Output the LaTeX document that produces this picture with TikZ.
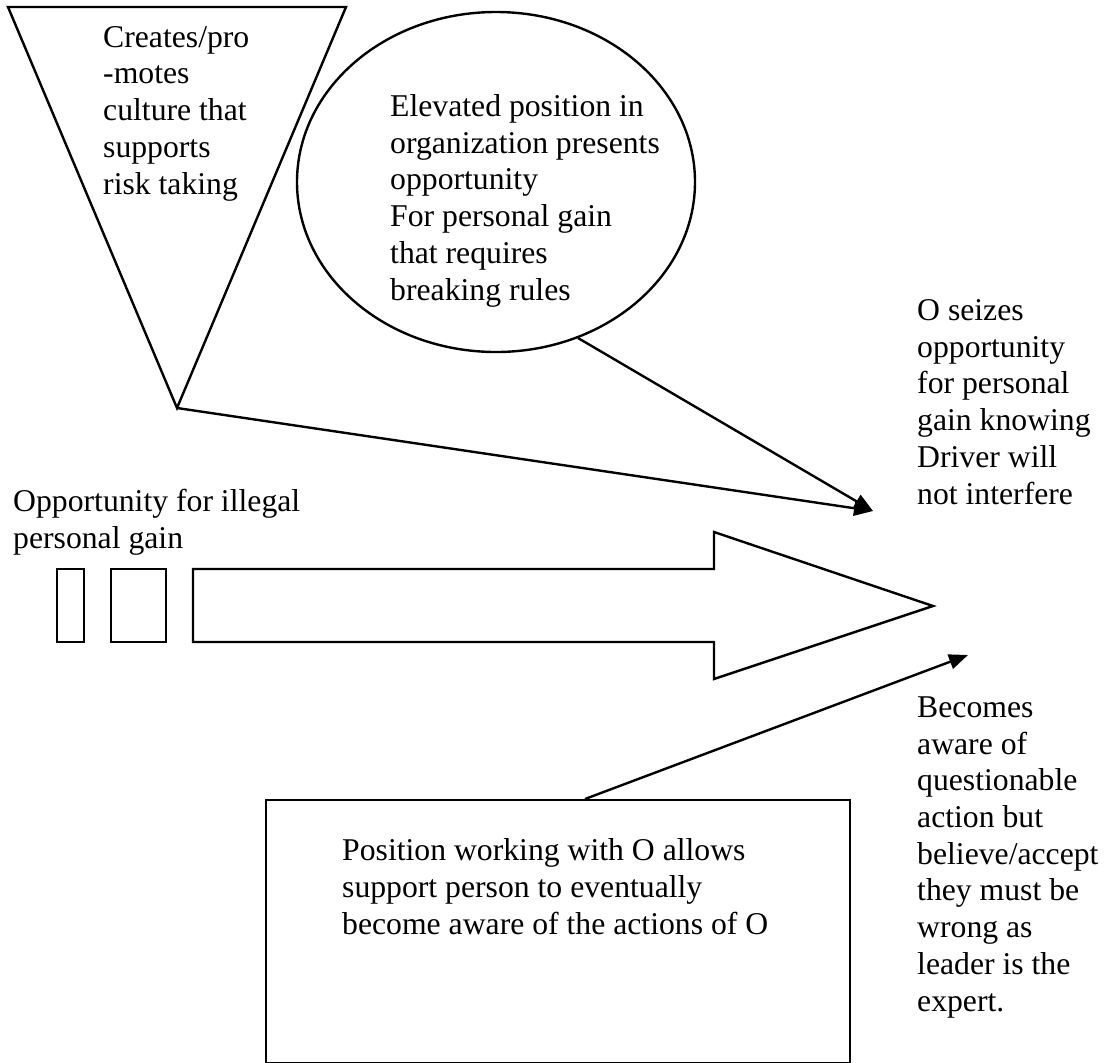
\documentclass[tikz,border=0pt]{standalone}
\usepackage{fontspec}
\setmainfont{Liberation Serif}
\usetikzlibrary{arrows.meta,shapes.geometric,calc}
\begin{document}
\begin{tikzpicture}[x=1pt,y=-1pt,
  outline/.style={draw=black,line width=2.4pt,line join=miter},
  % base anchor of a multi-line node sits on its last line
  label/.style={inner sep=0pt,anchor=base west,align=left,
    font=\fontsize{31.7}{36.7}\selectfont},
  link/.style={draw=black,line width=2.4pt,-{Triangle[length=19pt,width=15pt]}}]
\useasboundingbox (0,0) rectangle (1106,1063);

% inverted triangle
\draw[outline] (8,7) -- (346,7) -- (177,408) coordinate (tip) -- cycle;
\node[label] (culture) at (103,194) {Creates/pro\\-motes\\culture that\\supports\\risk taking};

% ellipse
\node[outline,ellipse,minimum width=398pt,minimum height=340pt,inner sep=0pt] (ell) at (496,182) {};
\node[label] (elevated) at (390,300) {Elevated position in\\organization presents\\opportunity\\For personal gain\\that requires\\breaking rules};

% converging connectors
\coordinate (meet) at (873,511);
\coordinate (ellfoot) at (578,338);
\draw[link] (tip) -- (meet);
\draw[link] (ellfoot) -- (meet);

\node[label] (seizes) at (917,504) {O seizes\\opportunity\\for personal\\gain knowing\\Driver will\\not interfere};

% opportunity block arrow
\node[label] (opp) at (13,548) {Opportunity for illegal\\personal gain};
\draw[outline,line width=2pt] (57,569) rectangle (84,642);
\draw[outline,line width=2pt] (111,569) rectangle (166,642);
\draw[outline] (193,569) -- (714,569) -- (714,532) -- (933,606) coordinate (arrowtip)
  -- (714,679) -- (714,642) -- (193,642) -- cycle;

% support box
\node[outline,rectangle,inner sep=0pt,minimum width=584pt,minimum height=263pt,anchor=north west] (box) at (265,799) {};
\node[label] (position) at (342,934) {Position working with O allows\\support person to eventually\\become aware of the actions of O};
\coordinate (boxtap) at ($(box.north west)+(320,0)$);
\coordinate (aware) at (968,655);
\draw[link] (boxtap) -- (aware);

\node[label] (becomes) at (917,1011) {Becomes\\aware of\\questionable\\action but\\believe/accept\\they must be\\wrong as\\leader is the\\expert.};
\end{tikzpicture}
\end{document}
